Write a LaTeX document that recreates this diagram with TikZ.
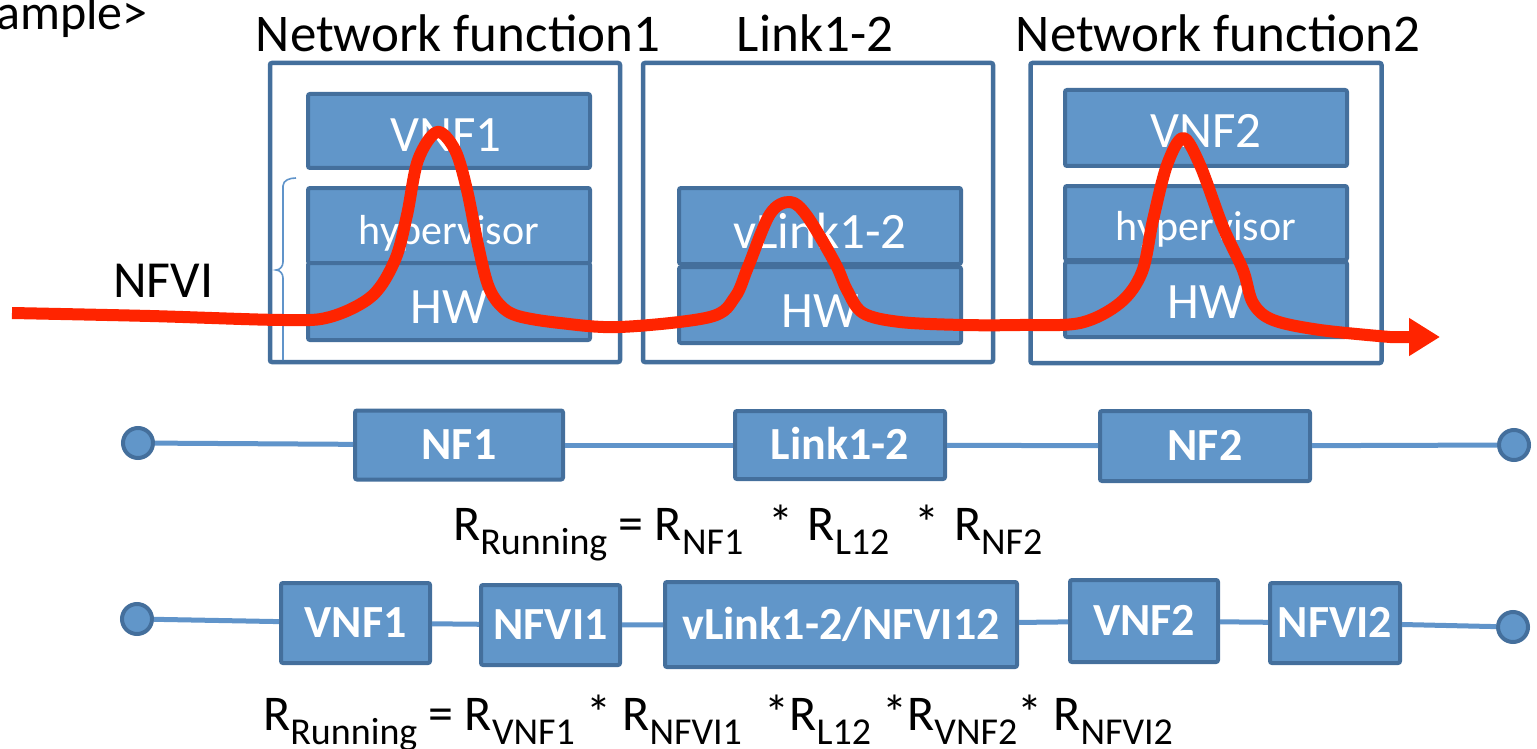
\documentclass[tikz,border=0pt]{standalone}
\usepackage{fontspec}
\setmainfont{Carlito}
\usetikzlibrary{arrows.meta}
\definecolor{boxfill}{RGB}{97,150,201}
\definecolor{boxdraw}{RGB}{68,111,156}
\definecolor{linkblue}{RGB}{96,148,202}
\definecolor{flowred}{RGB}{255,36,0}
\newcommand{\Rsub}[1]{R\raisebox{-14pt}{\fontsize{38}{38}\selectfont #1}}
\newcommand{\gapa}{\hspace{14pt}}
\newcommand{\gapb}{\hspace{3pt}}
\tikzset{
  outerbox/.style={draw=boxdraw, line width=4.5pt, fill=white, rounded corners=2pt, inner sep=0pt},
  innerbox/.style={draw=boxdraw, line width=4pt, fill=boxfill, rounded corners=2pt, inner sep=0pt},
  title/.style={anchor=base, font=\fontsize{53}{53}\selectfont, inner sep=0pt},
  intext/.style={anchor=base, text=white, font=\fontsize{51}{51}\selectfont, inner sep=0pt},
  hvtext/.style={anchor=base, text=white, font=\fontsize{42}{42}\selectfont, inner sep=0pt},
  chainbox/.style={draw=boxdraw, line width=4pt, fill=boxfill, rounded corners=2pt, inner sep=0pt,
     text=white, font=\bfseries\fontsize{46}{46}\selectfont, text height=29.5pt, text depth=0pt},
  endpt/.style={circle, draw=boxdraw, line width=4pt, fill=boxfill, minimum size=30pt, inner sep=0pt},
  chainline/.style={draw=linkblue, line width=5pt},
  formula/.style={anchor=base west, font=\fontsize{50}{50}\selectfont, inner sep=0pt},
  flow/.style={draw=flowred, line width=12pt, line cap=butt, line join=round},
  bracestyle/.style={draw=linkblue, line width=1.6pt}
}
\begin{document}
\begin{tikzpicture}[x=1pt, y=-1pt]
\useasboundingbox (0,0) rectangle (1537,749);

% heading fragment
\node[formula] (heading) at (-4,30) {ample>};

% titles
\node[title] (t1) at (458,52) {Network function1};
\node[title] (t2) at (815,52) {Link1-2};
\node[title] (t3) at (1218,52) {Network function2};

% outer boxes
\node[outerbox, minimum width=350pt, minimum height=299pt] (o1) at (445,212.5) {};
\node[outerbox, minimum width=350pt, minimum height=299pt] (o2) at (818,212.5) {};
\node[outerbox, minimum width=351pt, minimum height=300pt] (o3) at (1206,213) {};

% NF1 inner boxes
\node[innerbox, minimum width=282pt, minimum height=74pt] (vnfa) at (449,131) {};
\node[innerbox, minimum width=282pt, minimum height=75pt] (hva) at (449,225.5) {};
\node[innerbox, minimum width=282pt, minimum height=77pt] (hwa) at (449,301.5) {};
\node[intext] (vnfat) at (446,152) {VNF1};
\node[hvtext] (hvat) at (449,244) {hypervisor};
\node[intext] (hwat) at (449,323) {HW};

% Link inner boxes
\node[innerbox, minimum width=282pt, minimum height=76pt] (vl) at (820,226) {};
\node[innerbox, minimum width=282pt, minimum height=76pt] (hwb) at (820,305) {};
\node[intext] (vlt) at (820,248) {vLink1-2};
\node[intext] (hwbt) at (820,327) {HW};

% NF2 inner boxes
\node[innerbox, minimum width=282pt, minimum height=76pt] (vnfc) at (1206,128) {};
\node[innerbox, minimum width=282pt, minimum height=74pt] (hvc) at (1206,223) {};
\node[innerbox, minimum width=282pt, minimum height=75pt] (hwc) at (1206,299.5) {};
\node[intext] (vnfct) at (1206,148) {VNF2};
\node[hvtext] (hvct) at (1206,240) {hypervisor};
\node[intext] (hwct) at (1206,318) {HW};

% NFVI label and brace
\node[formula, font=\fontsize{52}{52}\selectfont] (nfvi) at (113,297) {NFVI};
\draw[bracestyle] (296,178) to[out=180,in=90] (283,186) -- (283,262)
   to[out=-90,in=0] (276,270) to[out=0,in=90] (283,278) -- (283,360);

% red flow
\coordinate (flowend) at (1440,337);
\draw[flow, -{Triangle[length=31pt,width=36pt]}] plot[smooth, tension=0.55] coordinates {
 (12,313) (150,316) (283,320) (330,317) (372,296) (395,260) (407,215) (418,160) (437,132)
 (455,150) (467,190) (478,245) (488,285) (500,305) (518,316) (560,323) (620,327)
 (710,317) (735,297) (748,267) (770,214) (790,202) (807,216) (835,263) (847,290)
 (863,313) (900,322) (963,325) (1020,325) (1080,323) (1120,303) (1142,272)
 (1153,220) (1167,165) (1183,138) (1200,165) (1223,227) (1243,270) (1253,303)
 (1273,320) (1320,330) (1390,337)} -- (flowend);

% chain 1
\node[endpt] (c1l) at (138,443) {};
\node[chainbox, minimum width=208pt, minimum height=69pt] (nf1) at (459,445) {NF1};
\node[chainbox, minimum width=210pt, minimum height=68pt] (l12) at (840,445) {Link1-2};
\node[chainbox, minimum width=210pt, minimum height=70pt] (nf2) at (1205,446) {NF2};
\node[endpt] (c1r) at (1514,445) {};
\draw[chainline] (c1l) -- (nf1);
\draw[chainline] (nf1) -- (l12);
\draw[chainline] (l12) -- (nf2);
\draw[chainline] (nf2) -- (c1r);

\node[formula] (f1) at (453,540) {\Rsub{Running} = \Rsub{NF1}\gapa{} * \gapb\Rsub{L12}\gapa{} * \gapb\Rsub{NF2}};

% chain 2
\node[endpt] (c2l) at (137,619) {};
\node[chainbox, minimum width=149pt, minimum height=80pt] (b1) at (355.5,623) {VNF1};
\node[chainbox, minimum width=139pt, minimum height=80pt] (b2) at (550.5,625) {NFVI1};
\node[chainbox, minimum width=352pt, minimum height=85pt] (b3) at (841,624.5) {vLink1-2/NFVI12};
\node[chainbox, minimum width=148pt, minimum height=82pt] (b4) at (1144,621) {VNF2};
\node[chainbox, minimum width=130pt, minimum height=80pt] (b5) at (1335,623) {NFVI2};
\node[endpt] (c2r) at (1513,627) {};
\draw[chainline] (c2l) -- (b1);
\draw[chainline] (b1) -- (b2);
\draw[chainline] (b2) -- (b3);
\draw[chainline] (b3) -- (b4);
\draw[chainline] (b4) -- (b5);
\draw[chainline] (b5) -- (c2r);

\node[formula] (f2) at (263,730) {\Rsub{Running} = \Rsub{VNF1} * \Rsub{NFVI1}\ \ *\Rsub{L12} *\Rsub{VNF2}* \Rsub{NFVI2}};
\end{tikzpicture}
\end{document}
